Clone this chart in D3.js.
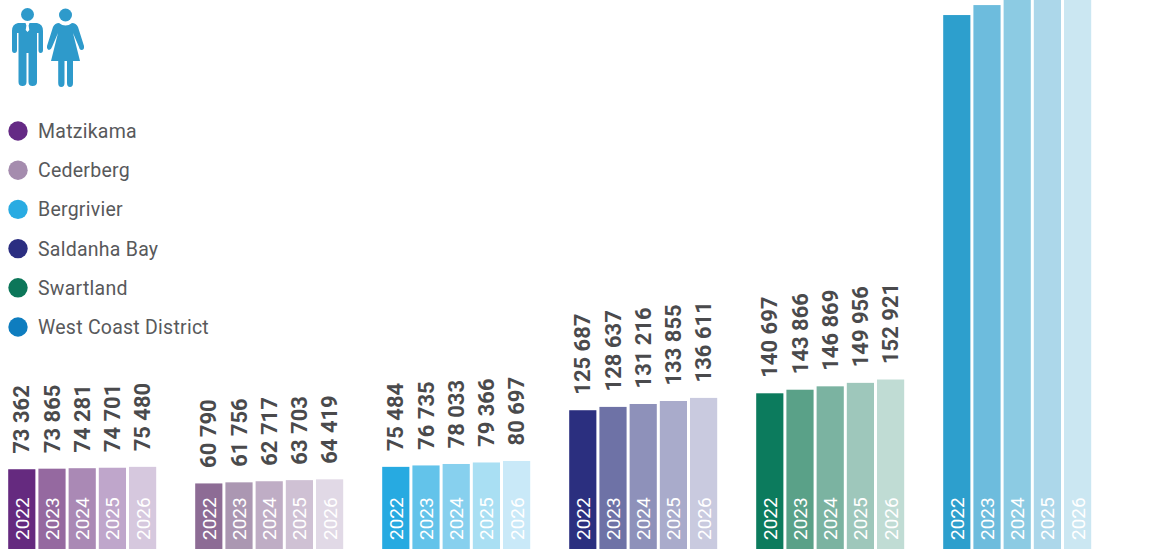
<!DOCTYPE html>
<html><head><meta charset="utf-8">
<script src="https://cdn.jsdelivr.net/npm/d3@7/dist/d3.min.js"></script>
<style>html,body{margin:0;padding:0;background:#fff;overflow:hidden}svg{display:block}</style>
</head><body><svg id="chart" width="1169" height="549"></svg>
<script>
const municipalities = ["Matzikama","Cederberg","Bergrivier","Saldanha Bay","Swartland","West Coast District"];
const years = ["2022","2023","2024","2025","2026"];
const matzikama = [73362,73865,74281,74701,75480];
const cederberg = [60790,61756,62717,63703,64419];
const bergrivier = [75484,76735,78033,79366,80697];
const saldanhaBay = [125687,128637,131216,133855,136611];
const swartland = [140697,143866,146869,149956,152921];
const westCoast = [476020,484859,493116,501581,510128];
const seriesValues = [matzikama,cederberg,bergrivier,saldanhaBay,swartland,westCoast];
const showValueLabels = [true,true,true,true,true,false];
const legendColors = ["#652a85","#a58cae","#29abe2","#2b2e81","#0c7659","#0e7dbf"];
const barColors = [
 ["#652a7f","#9569a0","#aa89b5","#bfa6cb","#d6c8de"],
 ["#8d6c95","#ab97b2","#bfadc5","#cfc1d4","#e1d9e6"],
 ["#27aae1","#63c3ea","#87d0ee","#a9dff3","#c9e9f8"],
 ["#2b2f7f","#6e72a6","#8e91ba","#a9abcb","#c9cadf"],
 ["#0c7b5d","#5aa188","#7bb3a1","#9ec7bb","#c0dcd4"],
 ["#2d9fcd","#6dbcdd","#8ccbe3","#acd7ea","#cbe7f2"]
];
const fmt = v => d3.format(",")(v).replace(/,/g," ");

const svg = d3.select("#chart");
const FONT = "Roboto, sans-serif";

const x0 = d3.scaleBand().domain(municipalities).range([8.2,8.2+5*187+148]).paddingInner(39/187).paddingOuter(0);
const x1 = d3.scaleBand().domain(years).range([0,x0.bandwidth()]).paddingInner(0.1);
const y = d3.scaleLinear().domain([0,500000]).range([552,552-0.001128*500000]);

municipalities.forEach((m,i)=>{
  const g = svg.append("g").attr("transform",`translate(${x0(m)},0)`);
  const data = years.map((yr,j)=>({yr,v:seriesValues[i][j],c:barColors[i][j]}));
  g.selectAll("rect").data(data).join("rect")
    .attr("x",d=>x1(d.yr)).attr("y",d=>y(d.v))
    .attr("width",x1.bandwidth()).attr("height",d=>y(0)-y(d.v)).attr("fill",d=>d.c);
  g.selectAll("text.yr").data(data).join("text").attr("class","yr")
    .attr("transform",d=>`translate(${x1(d.yr)+x1.bandwidth()/2+7},540) rotate(-90)`)
    .attr("font-family",FONT).attr("font-size",19).attr("fill","#fff").text(d=>d.yr);
  if(showValueLabels[i]){
    g.selectAll("text.val").data(data).join("text").attr("class","val")
      .attr("transform",d=>`translate(${x1(d.yr)+x1.bandwidth()/2+7.7},${y(d.v)-15.5}) rotate(-90)`)
      .attr("font-family",FONT).attr("font-size",22).attr("font-weight",700).attr("fill","#4a4a4c").text(d=>fmt(d.v));
  }
});

const legendY = d3.scalePoint().domain(municipalities).range([131,327]);
const lg = svg.append("g").selectAll("g").data(municipalities).join("g")
  .attr("transform",d=>`translate(0,${legendY(d)})`);
lg.append("circle").attr("cx",18).attr("cy",0).attr("r",9.7).attr("fill",(d,i)=>legendColors[i]);
lg.append("text").attr("x",38).attr("y",7).attr("font-family",FONT).attr("font-size",19.5)
  .attr("letter-spacing",0.25).attr("fill","#58595b").text(d=>d);

const icon = svg.append("g").attr("fill","#2e9acb");
icon.append("circle").attr("cx",27.5).attr("cy",14.5).attr("r",6.5);
icon.append("path").attr("d","M18 23 H37 Q43 24 43 31 V50 Q43 53 40.5 53 Q38.5 53 38.5 50 V33 H37 V82 Q37 86 32.5 86 Q28.5 86 28.5 82 V53 H26.5 V82 Q26.5 86 22.5 86 Q18.5 86 18.5 82 V33 H17 V50 Q17 53 14.5 53 Q12 53 12 50 V31 Q12 24 18 23 Z");
icon.append("path").attr("d","M25.5 23 H29.5 L28.6 25.5 L29.3 30 L27.5 32 L25.7 30 L26.4 25.5 Z").attr("fill","#fff");
icon.append("circle").attr("cx",65.5).attr("cy",15).attr("r",6.5);
icon.append("path").attr("d","M59 23 Q65.5 28 72 23 Q76 23 78 27 L84 46 Q84.5 50 81.5 50 Q79.5 50 79 47 L73 33 L80 61 H73 V83 Q73 87 70 87 Q67 87 67 83 V61 H64.5 V83 Q64.5 87 61.2 87 Q58.2 87 58.2 83 V61 H51 L58 33 L52 47 Q51 50 49 50 Q46.5 49 47 46 L53 27 Q55 23 59 23 Z");
</script></body></html>
